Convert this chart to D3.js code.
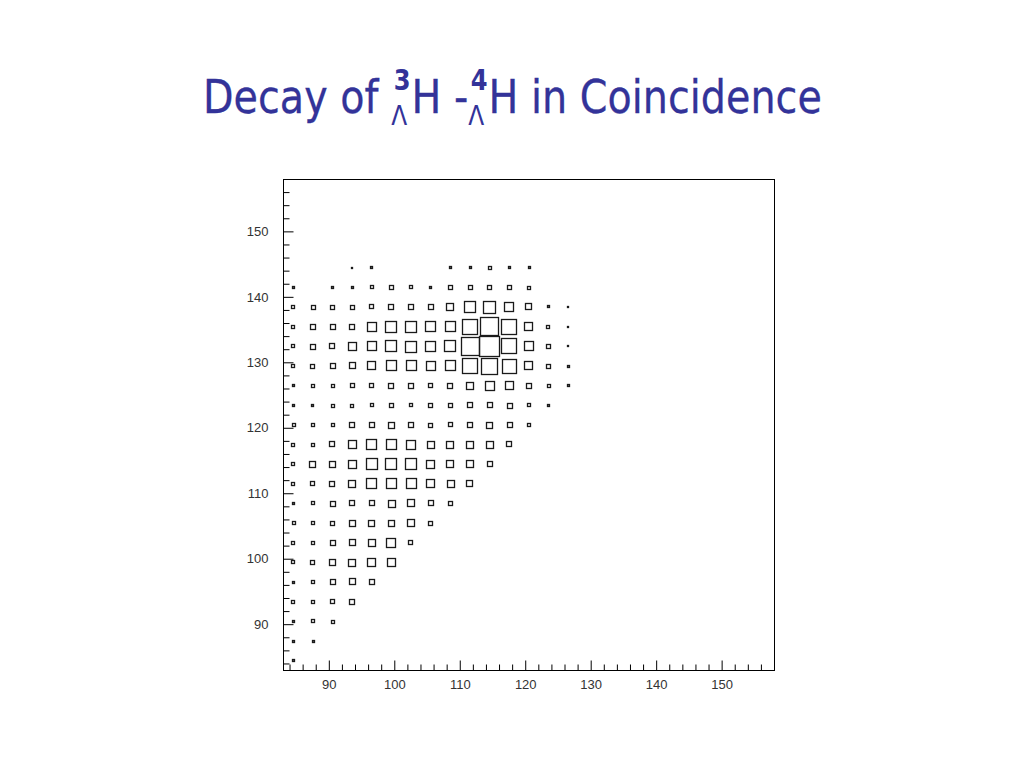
<!DOCTYPE html>
<html><head><meta charset="utf-8">
<script src="https://cdn.jsdelivr.net/npm/d3@7"></script>
<style>body{margin:0;background:#fff;} svg{display:block} text{white-space:pre}</style>
</head><body><svg id="c" width="1024" height="768"></svg>
<script>
// ---- data ----
const xBins = [84.5, 87.5, 90.5, 93.5, 96.5, 99.5, 102.5, 105.5, 108.5, 111.5, 114.5, 117.5, 120.5, 123.5, 126.5];
const yBins = [144.5, 141.5, 138.5, 135.5, 132.5, 129.5, 126.5, 123.5, 120.5, 117.5, 114.5, 111.5, 108.5, 105.5, 102.5, 99.5, 96.5, 93.5, 90.5, 87.5, 84.5];
// counts[row][col]; row follows yBins, col follows xBins; null = empty bin
const counts = [
  [null, null, null, 5, 10, null, null, null, 10, 10, 15, 10, 10, null, null],
  [10, null, 10, 12, 16, 18, 16, 12, 18, 18, 18, 20, 15, null, null],
  [14, 18, 18, 20, 22, 27, 27, 27, 37, 55, 60, 47, 33, 12, 5],
  [17, 23, 23, 28, 47, 58, 55, 52, 52, 78, 92, 76, 42, 17, 5],
  [17, 23, 28, 42, 47, 57, 55, 52, 57, 90, 100, 78, 47, 20, 7],
  [15, 20, 26, 32, 42, 52, 52, 47, 52, 78, 80, 72, 42, 18, 8],
  [10, 15, 13, 22, 22, 27, 27, 22, 27, 37, 47, 42, 27, 15, 8],
  [8, 10, 13, 13, 16, 20, 16, 22, 22, 27, 27, 24, 16, 8, null],
  [13, 16, 16, 24, 24, 30, 27, 20, 22, 27, 30, 24, 16, null, null],
  [16, 16, 27, 42, 52, 52, 47, 37, 37, 34, 34, 27, null, null, null],
  [16, 32, 32, 42, 57, 57, 57, 42, 37, 37, 27, null, null, null, null],
  [16, 20, 27, 37, 52, 52, 52, 42, 34, 32, null, null, null, null, null],
  [11, 16, 24, 27, 27, 34, 37, 27, 22, null, null, null, null, null, null],
  [13, 16, 22, 30, 32, 32, 34, 22, null, null, null, null, null, null, null],
  [16, 16, 24, 30, 37, 47, 22, null, null, null, null, null, null, null, null],
  [16, 22, 32, 34, 42, 40, null, null, null, null, null, null, null, null, null],
  [11, 16, 24, 32, 27, null, null, null, null, null, null, null, null, null, null],
  [16, 16, 22, 24, null, null, null, null, null, null, null, null, null, null, null],
  [10, 16, 13, null, null, null, null, null, null, null, null, null, null, null, null],
  [8, 8, null, null, null, null, null, null, null, null, null, null, null, null, null],
  [8, null, null, null, null, null, null, null, null, null, null, null, null, null, null]
];
const xTicks = [90, 100, 110, 120, 130, 140, 150];
const yTicks = [90, 100, 110, 120, 130, 140, 150];
const axisDomain = [83, 158];
const binWidth = 3;
const countMax = 100;

// ---- layout ----
const svg = d3.select("#c");
const L = 283, R = 774, T = 179, B = 670;
const x = d3.scaleLinear().domain(axisDomain).range([L, R]);
const y = d3.scaleLinear().domain(axisDomain).range([B, T]);
const side = d3.scaleLinear().domain([0, countMax]).range([0, x(axisDomain[0] + binWidth) - x(axisDomain[0])]);

const minor = d3.range(axisDomain[0] + 1, axisDomain[1], 2).filter(v => v % 10 !== 0);

// frame
svg.append("rect").attr("x", L + 0.5).attr("y", T + 0.5).attr("width", R - L).attr("height", B - T)
  .attr("fill", "none").attr("stroke", "#000").attr("stroke-width", 1);

// boxes
const cells = [];
counts.forEach((row, r) => row.forEach((v, c) => { if (v != null) cells.push({ xc: xBins[c], yc: yBins[r], v }); }));
svg.append("g").selectAll("rect").data(cells).join("rect")
  .attr("x", d => Math.round(x(d.xc) - side(d.v) / 2) + 0.5)
  .attr("y", d => Math.round(y(d.yc) - side(d.v) / 2) + 0.5)
  .attr("width", d => Math.max(1, Math.round(side(d.v))))
  .attr("height", d => Math.max(1, Math.round(side(d.v))))
  .attr("fill", "none").attr("stroke", "#1a1a1a").attr("stroke-width", 1.3);

// axes
function styleAxis(g) {
  g.select(".domain").remove();
  g.selectAll("line").attr("stroke", "#000");
  g.selectAll("text").attr("fill", "#333").style("font-family", "'Liberation Sans', Arial, sans-serif").style("font-size", "13px");
}
svg.append("g").attr("transform", `translate(0,${B + 0.5})`)
  .call(d3.axisBottom(x).tickValues(xTicks).tickSize(-10).tickPadding(9).tickFormat(d3.format("d")))
  .call(styleAxis);
svg.append("g").attr("transform", `translate(0,${B + 0.5})`)
  .call(d3.axisBottom(x).tickValues(minor).tickSize(-6).tickFormat(""))
  .call(styleAxis);
svg.append("g").attr("transform", `translate(${L + 0.5},0)`)
  .call(d3.axisLeft(y).tickValues(yTicks).tickSize(-10).tickPadding(15).tickFormat(d3.format("d")))
  .call(styleAxis);
svg.append("g").attr("transform", `translate(${L + 0.5},0)`)
  .call(d3.axisLeft(y).tickValues(minor).tickSize(-6).tickFormat(""))
  .call(styleAxis);

// title
const titleColor = "#333399";
const font = "'DejaVu Sans', Verdana, sans-serif";
const tg = svg.append("g");
let cx = 0;
const base = 113;
function main(str) {
  const t = tg.append("text").attr("x", cx).attr("y", base).attr("fill", titleColor)
    .attr("stroke", titleColor).attr("stroke-width", 0.3)
    .style("font-family", font).style("font-size", "46px").style("white-space", "pre").text(str);
  cx += t.node().getComputedTextLength();
}
function stack(sup, sub) {
  const a = tg.append("text").attr("x", cx + 3).attr("y", base - 23).attr("fill", titleColor)
    .style("font-family", font).style("font-size", "28px").style("font-weight", "bold").text(sup);
  const b = tg.append("text").attr("x", cx).attr("y", base + 12).attr("fill", titleColor)
    .style("font-family", font).style("font-size", "27px").text(sub);
  cx += Math.max(a.node().getComputedTextLength() + 3, b.node().getComputedTextLength()) + 1;
}
main("Decay of ");
stack("3", "Λ");
main("H -");
stack("4", "Λ");
main("H in Coincidence");
const total = cx;
const targetL = 203, targetR = 822;
const s = (targetR - targetL) / total;
tg.attr("transform", `translate(${targetL},0) scale(${s},1)`);
</script>
</body></html>
